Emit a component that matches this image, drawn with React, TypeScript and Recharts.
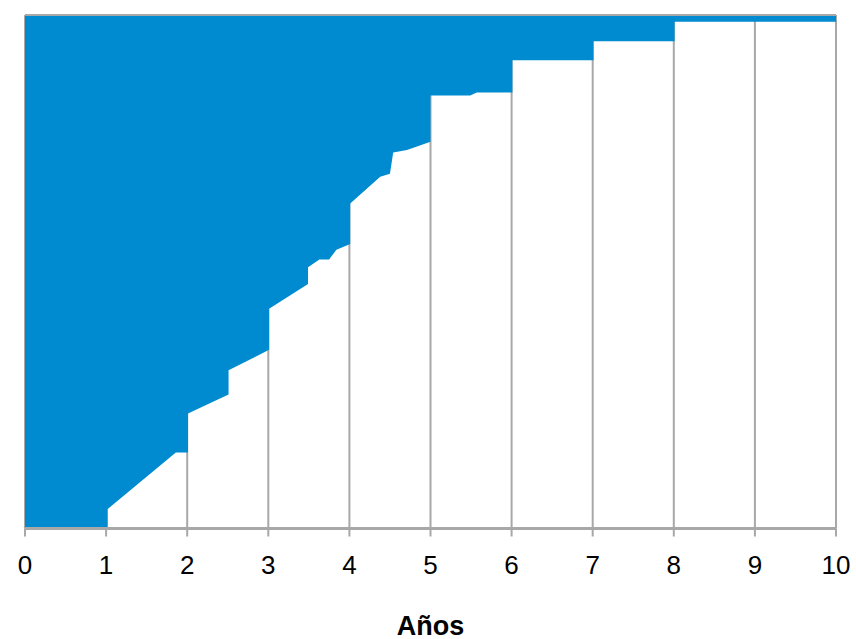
import { Area, CartesianGrid, ComposedChart, ReferenceLine, XAxis, YAxis } from "recharts";

// boundary of the blue region (years on x, % on y)
const years = [
  0, 1.02, 1.02, 1.86, 2.01, 2.01, 2.51, 2.51, 3.01, 3.01, 3.49, 3.49, 3.63, 3.75, 3.84, 4.01, 4.01, 4.38, 4.5, 4.54,
  4.71, 5.0, 5.0, 5.49, 5.57, 6.01, 6.01, 7.01, 7.01, 8.01, 8.01, 10,
];
const lowerValues = [
  0, 0, 3.8, 14.8, 14.8, 22.4, 26.1, 30.8, 34.8, 42.8, 47.6, 50.9, 52.4, 52.4, 54.3, 55.4, 63.3, 68.5, 69.1, 73.2,
  73.7, 75.3, 84.3, 84.3, 84.9, 84.9, 91.2, 91.2, 94.9, 94.9, 98.7, 98.7,
];
const TOP = 100;
const xTicks = [0, 1, 2, 3, 4, 5, 6, 7, 8, 9, 10];

const data = years.map((x, i) => ({ x, low: lowerValues[i], high: TOP }));

const GRAY = "#a8a8a8";
const BLUE = "#008bd0";
const FONT = "'Liberation Sans', Arial, sans-serif";

export default function App() {
  // pinned to the page origin, ignoring the default body margin
  return (
    <div style={{ position: "absolute", left: 0, top: 0, width: 856, height: 639 }}>
      <ComposedChart
        width={856}
        height={639}
        data={data}
        margin={{ top: 15, right: 20, left: 25, bottom: 10.5 }}
        style={{ overflow: "visible" }}
      >
        <CartesianGrid horizontal={false} stroke={GRAY} strokeWidth={2} />
        <XAxis
          dataKey="x"
          type="number"
          domain={[0, 10]}
          ticks={xTicks}
          height={100}
          stroke={GRAY}
          axisLine={{ stroke: GRAY, strokeWidth: 3 }}
          tickLine={{ stroke: GRAY, strokeWidth: 2 }}
          tickSize={8}
          tickMargin={19}
          tick={{ fontSize: 26, fill: "#000", fontFamily: FONT }}
          label={{
            value: "Años",
            position: "insideBottom",
            offset: -6,
            style: { fontSize: 27, fontWeight: "bold", fill: "#000", fontFamily: FONT },
          }}
        />
        <YAxis type="number" domain={[0, TOP]} hide />
        <Area
          type="linear"
          dataKey={(d: { low: number; high: number }) => [d.low, d.high]}
          stroke="none"
          fill={BLUE}
          fillOpacity={1}
          isAnimationActive={false}
        />
        <ReferenceLine y={TOP} stroke={GRAY} strokeWidth={2} />
      </ComposedChart>
    </div>
  );
}
